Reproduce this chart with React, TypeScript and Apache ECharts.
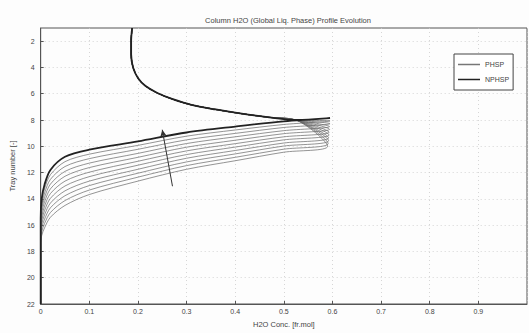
import React, { useEffect, useRef } from "react";
import * as echarts from "echarts";

const titleText = "Column H2O (Global Liq. Phase) Profile Evolution";
const xName = "H2O Conc. [fr.mol]";
const yName = "Tray number [-]";
const yTicks = [2, 4, 6, 8, 10, 12, 14, 16, 18, 20, 22];

// common upper profile (x = concentration, y = tray)
const upperX = [0.188, 0.186, 0.186, 0.19, 0.2, 0.215, 0.24, 0.27, 0.31, 0.36, 0.41, 0.47, 0.525];
const upperTray = [1, 2, 3, 4, 4.8, 5.4, 5.95, 6.4, 6.85, 7.2, 7.5, 7.8, 8.0];

// each profile's peak (x, tray)
const peakX = [0.595, 0.595, 0.595, 0.594, 0.594, 0.593, 0.593, 0.592, 0.592, 0.591, 0.59];
const peakTray = [7.85, 8.07, 8.28, 8.5, 8.71, 8.93, 9.14, 9.36, 9.57, 9.79, 10.0];

// lower part: concentrations shared by every profile, trays per profile
const lowerX = [0.5, 0.4, 0.3, 0.2, 0.1, 0.05, 0.02, 0.008, 0.002, 0, 0];
const lowerTrays = [
  [8.1, 8.5, 8.95, 9.63, 10.26, 10.8, 11.8, 12.9, 14.0, 15.5, 22],
  [8.34, 8.76, 9.23, 9.93, 10.6, 11.17, 12.16, 13.23, 14.28, 15.7, 22],
  [8.57, 9.02, 9.51, 10.23, 10.94, 11.54, 12.52, 13.56, 14.56, 15.9, 22],
  [8.81, 9.28, 9.79, 10.54, 11.28, 11.91, 12.88, 13.89, 14.84, 16.1, 22],
  [9.04, 9.54, 10.07, 10.84, 11.62, 12.28, 13.24, 14.22, 15.12, 16.3, 22],
  [9.28, 9.8, 10.35, 11.14, 11.97, 12.65, 13.6, 14.55, 15.4, 16.5, 22],
  [9.51, 10.06, 10.63, 11.44, 12.31, 13.02, 13.96, 14.88, 15.68, 16.7, 22],
  [9.75, 10.32, 10.91, 11.75, 12.65, 13.39, 14.32, 15.21, 15.96, 16.9, 22],
  [9.98, 10.58, 11.19, 12.05, 12.99, 13.76, 14.68, 15.54, 16.24, 17.1, 22],
  [10.22, 10.84, 11.47, 12.35, 13.33, 14.13, 15.04, 15.87, 16.52, 17.3, 22],
  [10.45, 11.1, 11.75, 12.65, 13.67, 14.5, 15.4, 16.2, 16.8, 17.5, 22],
];

// evolution arrow (from, to)
const arrowFrom = [0.271, 13.04];
const arrowTo = [0.25, 8.74];

const FONT = "Liberation Sans";

export default function App() {
  const ref = useRef<HTMLDivElement>(null);
  useEffect(() => {
    document.body.style.margin = "0";
    const chart = echarts.init(ref.current!, null, { renderer: "svg" });
    const profiles = lowerTrays.map((trays, k) => {
      const pts: number[][] = [];
      upperX.forEach((x, i) => pts.push([x, upperTray[i]]));
      pts.push([peakX[k], peakTray[k]]);
      lowerX.forEach((x, i) => pts.push([x, trays[i]]));
      return pts;
    });
    const series: any[] = [];
    for (let k = profiles.length - 1; k >= 1; k--) {
      series.push({
        name: "PHSP",
        type: "line",
        data: profiles[k],
        showSymbol: false,
        symbol: "none",
        smooth: 0.3,
        lineStyle: { color: "#666", width: 0.7 },
        itemStyle: { color: "#666" },
        z: 2,
      });
    }
    series.push({
      name: "NPHSP",
      type: "line",
      data: profiles[0],
      showSymbol: false,
      symbol: "none",
      smooth: 0.3,
      lineStyle: { color: "#222", width: 1.8 },
      itemStyle: { color: "#222" },
      z: 3,
      markLine: {
        silent: true,
        symbol: ["none", "arrow"],
        symbolSize: [5, 7],
        label: { show: false },
        lineStyle: { color: "#333", width: 1, type: "solid" },
        data: [[{ coord: arrowFrom }, { coord: arrowTo }]],
      },
    });
    chart.setOption({
      animation: false,
      backgroundColor: "#fdfdfd",
      title: {
        text: titleText,
        left: 283,
        textAlign: "center",
        top: 11,
        textStyle: { fontFamily: FONT, fontSize: 7.5, fontWeight: "normal", color: "#444" },
      },
      legend: {
        orient: "vertical",
        left: 454,
        top: 54,
        itemWidth: 22,
        itemHeight: 1.5,
        itemGap: 8,
        padding: [7, 4, 7, 4],
        borderColor: "#444",
        borderWidth: 1,
        backgroundColor: "#fff",
        textStyle: { fontFamily: FONT, fontSize: 7, color: "#444" },
        data: [
          { name: "PHSP", icon: "rect", itemStyle: { color: "#777" } },
          { name: "NPHSP", icon: "rect", itemStyle: { color: "#222" } },
        ],
      },
      grid: {
        left: 40,
        right: 2,
        top: 28,
        bottom: 28,
        show: true,
        borderColor: "#555",
        borderWidth: 1,
        backgroundColor: "transparent",
      },
      xAxis: {
        type: "value",
        min: 0,
        max: 1,
        interval: 0.1,
        name: xName,
        nameLocation: "middle",
        nameGap: 16,
        nameTextStyle: { fontFamily: FONT, fontSize: 7.5, color: "#444" },
        axisLine: { lineStyle: { color: "#555" } },
        axisTick: { inside: true, length: 3, lineStyle: { color: "#555" } },
        axisLabel: {
          fontFamily: FONT,
          fontSize: 7,
          color: "#444",
          margin: 4,
          showMaxLabel: false,
          formatter: (v: number) => (Math.round(v * 10) / 10).toString(),
        },
        splitLine: { show: true, lineStyle: { color: "#ccc", type: [1, 3], width: 0.8 } },
      },
      yAxis: {
        type: "value",
        min: 1,
        max: 22,
        inverse: true,
        name: yName,
        nameLocation: "middle",
        nameGap: 24,
        nameRotate: 90,
        nameTextStyle: { fontFamily: FONT, fontSize: 7.5, color: "#444" },
        axisLine: { lineStyle: { color: "#555" } },
        axisTick: { inside: true, length: 3, customValues: yTicks, lineStyle: { color: "#555" } },
        axisLabel: {
          fontFamily: FONT,
          fontSize: 7,
          color: "#444",
          margin: 6,
          customValues: yTicks,
        },
        splitLine: { show: true, lineStyle: { color: "#ccc", type: [1, 3], width: 0.8 } },
      },
      series,
    });
    return () => chart.dispose();
  }, []);
  return <div ref={ref} style={{ width: 529, height: 333 }} />;
}
